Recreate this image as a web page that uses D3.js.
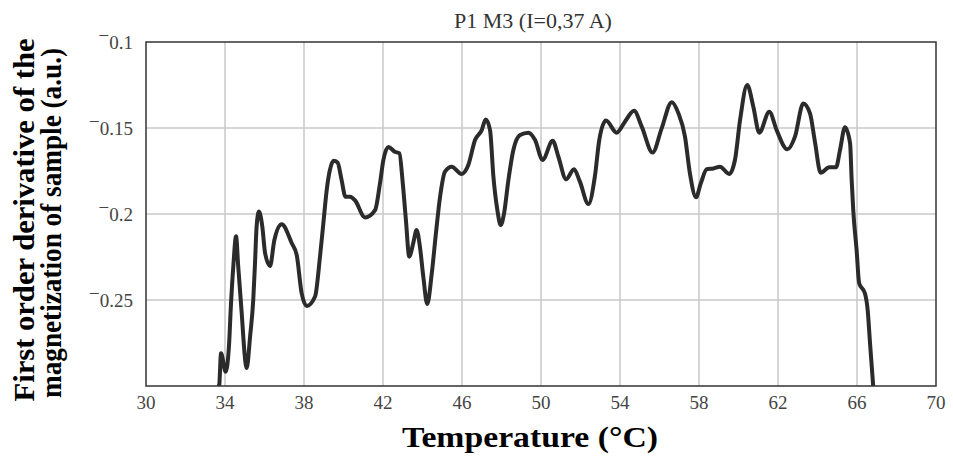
<!DOCTYPE html>
<html>
<head>
<meta charset="utf-8">
<script src="https://cdn.jsdelivr.net/npm/d3@7"></script>
<style>
  body { margin: 0; background: #fff; }
  text { font-family: "Liberation Serif", "Times New Roman", serif; }
</style>
</head>
<body>
<script>
// temperature (°C) and derivative values
let temps = [33.6, 33.7, 33.8, 34.03, 34.2, 34.3, 34.42, 34.56, 34.67, 34.81, 35.1, 35.27, 35.43,
  35.52, 35.6, 35.72, 35.89, 36.03, 36.28, 36.5, 36.87, 37.38, 37.63, 37.88, 38.14, 38.56, 38.81,
  38.98, 39.15, 39.3, 39.5, 39.7, 39.9, 40.1, 40.33, 40.58, 41.09, 41.6, 41.85, 42.02, 42.27, 42.6,
  42.83, 43.0, 43.16, 43.33, 43.53, 43.7, 43.87, 44.04, 44.24, 44.47, 44.68, 44.89, 45.14, 45.48,
  45.98, 46.32, 46.66, 47.0, 47.2, 47.42, 47.59, 47.79, 47.96, 48.13, 48.35, 48.6, 48.94, 49.36,
  49.7, 50.08, 50.59, 50.88, 51.27, 51.67, 51.97, 52.4, 52.73, 52.95, 53.29, 53.83, 54.25, 54.71,
  55.1, 55.65, 56.11, 56.62, 56.96, 57.29, 57.54, 57.85, 58.09, 58.39, 58.73, 59.06, 59.53, 59.82,
  60.08, 60.44, 60.75, 61.05, 61.56, 61.93, 62.47, 62.86, 63.28, 63.62, 63.87, 64.16, 64.6, 64.94,
  65.14, 65.39, 65.65, 65.73, 65.81, 65.98, 66.11, 66.4, 66.54, 66.66, 66.82];
let deriv = [-0.30, -0.300, -0.281, -0.2917, -0.277, -0.253, -0.2306, -0.213, -0.2306, -0.252, -0.2895,
  -0.2713, -0.25, -0.2285, -0.2074, -0.1986, -0.2074, -0.2227, -0.2302, -0.2151, -0.206, -0.217,
  -0.2238, -0.246, -0.2535, -0.248, -0.2248, -0.2054, -0.186, -0.175, -0.169, -0.170, -0.180, -0.190,
  -0.190, -0.192, -0.202, -0.1977, -0.182, -0.1686, -0.161, -0.1638, -0.1647, -0.182, -0.2035,
  -0.2248, -0.217, -0.2093, -0.219, -0.2364, -0.2523, -0.2345, -0.2112, -0.19, -0.1754, -0.1725,
  -0.1767, -0.1715, -0.157, -0.1512, -0.145, -0.1512, -0.1783, -0.1977, -0.2064, -0.1996, -0.1802,
  -0.1628, -0.1541, -0.1527, -0.157, -0.1686, -0.1574, -0.1667, -0.1798, -0.174, -0.1812, -0.1942,
  -0.178, -0.157, -0.1457, -0.1527, -0.1463, -0.14, -0.1492, -0.1643, -0.1502, -0.1350, -0.1415,
  -0.155, -0.1764, -0.1903, -0.1822, -0.174, -0.1735, -0.1725, -0.1767, -0.1686, -0.1453, -0.125,
  -0.1376, -0.1527, -0.1405, -0.1512, -0.1624, -0.155, -0.1357, -0.1415, -0.158, -0.176, -0.1728,
  -0.1728, -0.1628, -0.1496, -0.1589, -0.1802, -0.1977, -0.221, -0.2403, -0.2461, -0.2558, -0.2752, -0.30];

let xTicks = [30, 34, 38, 42, 46, 50, 54, 58, 62, 66, 70];
let yTicks = [-0.1, -0.15, -0.2, -0.25];

let data = temps.map((t, i) => ({t: t, v: deriv[i]}));

let plotL = 146, plotR = 936, plotT = 42, plotB = 386;

let svg = d3.select('body').append('svg').attr('width', 953).attr('height', 457);

let x = d3.scaleLinear().domain([30, 70]).range([plotL, plotR]);
let y = d3.scaleLinear().domain([-0.3, -0.1]).range([plotB, plotT]);

// grid
svg.selectAll('.vg').data(xTicks.slice(1, -1)).enter().append('line')
  .attr('x1', d => x(d)).attr('x2', d => x(d))
  .attr('y1', plotT).attr('y2', plotB)
  .attr('stroke', '#c8c8c8').attr('stroke-width', 1.5);
svg.selectAll('.hg').data(yTicks.slice(1)).enter().append('line')
  .attr('x1', plotL).attr('x2', plotR)
  .attr('y1', d => y(d)).attr('y2', d => y(d))
  .attr('stroke', '#c8c8c8').attr('stroke-width', 1.5);

svg.append('clipPath').attr('id', 'plot').append('rect')
  .attr('x', plotL).attr('y', plotT).attr('width', plotR - plotL).attr('height', plotB - plotT);

let line = d3.line().x(d => x(d.t)).y(d => y(d.v)).curve(d3.curveMonotoneX);
svg.append('path').datum(data)
  .attr('d', line)
  .attr('clip-path', 'url(#plot)')
  .attr('fill', 'none')
  .attr('stroke', '#2b2b2b')
  .attr('stroke-width', 4)
  .attr('stroke-linejoin', 'round');

// frame
svg.append('rect').attr('x', plotL).attr('y', plotT)
  .attr('width', plotR - plotL).attr('height', plotB - plotT)
  .attr('fill', 'none').attr('stroke', '#333').attr('stroke-width', 1.5);

// tick labels
svg.selectAll('.xt').data(xTicks).enter().append('text')
  .attr('x', d => x(d)).attr('y', plotB + 23)
  .attr('text-anchor', 'middle')
  .attr('font-size', 19).attr('fill', '#444')
  .text(d => d);

let yl = svg.selectAll('.yt').data(yTicks).enter().append('text')
  .attr('x', plotL - 13).attr('y', d => y(d) + 7)
  .attr('text-anchor', 'end')
  .attr('font-size', 19).attr('fill', '#444');
yl.append('tspan').attr('dy', -7).text('\u2212');
yl.append('tspan').attr('dy', 7).text(d => String(Math.abs(d)));

// title
svg.append('text').attr('x', 533).attr('y', 28)
  .attr('text-anchor', 'middle').attr('font-size', 22).attr('fill', '#333')
  .text('P1 M3 (I=0,37 A)');

// axis titles
svg.append('text').attr('x', 530).attr('y', 447)
  .attr('text-anchor', 'middle').attr('font-size', 29).attr('font-weight', 'bold')
  .attr('textLength', 256).attr('lengthAdjust', 'spacingAndGlyphs')
  .text('Temperature (\u00b0C)');

svg.append('text').attr('transform', 'translate(34,220) rotate(-90)')
  .attr('text-anchor', 'middle').attr('font-size', 30).attr('font-weight', 'bold')
  .attr('textLength', 363).attr('lengthAdjust', 'spacingAndGlyphs')
  .text('First order derivative of the');
svg.append('text').attr('transform', 'translate(61,223) rotate(-90)')
  .attr('text-anchor', 'middle').attr('font-size', 30).attr('font-weight', 'bold')
  .attr('textLength', 350).attr('lengthAdjust', 'spacingAndGlyphs')
  .text('magnetization of sample (a.u.)');
</script>
</body>
</html>
